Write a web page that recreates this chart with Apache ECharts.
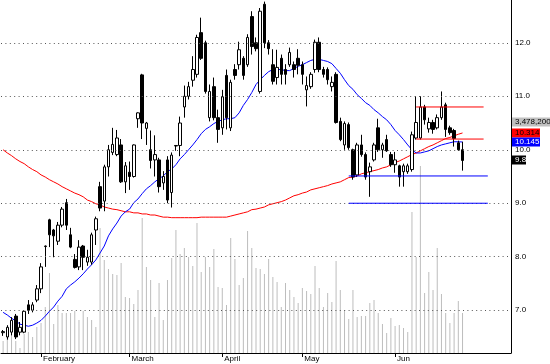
<!DOCTYPE html>
<html><head><meta charset="utf-8">
<script src="https://cdn.jsdelivr.net/npm/echarts@6/dist/echarts.min.js"></script>
<style>html,body{margin:0;padding:0;background:#fff}#c{width:550px;height:364px}</style>
</head><body><div id="c"></div>
<script>
const totalSlots = 121;
const monthLabels = ['February','March','April','May','Jun'];
const monthStarts = [9,30,52,71,93];
const yTicks = [7,8,9,10,11,12];

const opens = [6.58,6.50,6.59,6.89,6.59,6.59,7.10,7.00,7.19,7.40,
 8.19,8.69,8.50,8.29,8.59,9.01,8.41,7.95,7.81,8.20,
 7.90,7.90,8.50,9.31,9.04,9.68,9.95,9.91,10.09,9.40,
 9.58,9.50,10.58,11.40,10.40,10.00,9.81,9.81,9.38,9.81,
 9.20,10.07,10.08,10.80,11.00,11.30,11.41,12.19,12.00,10.60,
 11.18,10.60,10.41,11.39,10.41,11.50,11.59,11.71,11.59,12.49,
 12.00,11.09,12.72,12.00,11.59,11.35,11.71,11.50,11.59,11.59,
 11.71,11.59,11.12,11.18,11.50,12.01,11.50,11.50,11.18,11.41,
 10.53,10.09,10.47,10.00,9.53,10.09,9.91,9.59,9.81,10.41,
 10.00,10.19,9.91,9.72,9.70,9.59,9.59,9.63,10.22,10.22,
 10.80,10.39,10.51,10.41,10.60,10.84,10.41,10.36,10.13,10.00];
const closes = [6.60,6.68,6.81,6.50,6.68,6.98,7.00,7.10,7.40,7.81,
 8.20,8.41,8.39,8.59,8.89,8.59,8.18,7.80,8.18,7.99,
 7.99,8.41,8.71,8.91,9.68,10.00,10.10,10.22,9.40,9.70,
 9.50,10.09,10.69,10.50,10.50,9.80,9.91,9.31,9.50,9.06,
 9.90,10.08,10.50,11.00,11.18,11.50,12.10,11.71,11.09,11.09,
 10.60,10.38,10.99,10.60,11.26,11.39,11.87,11.39,12.10,11.93,
 11.89,12.59,12.00,11.89,11.28,11.54,11.41,11.41,11.82,11.50,
 11.58,11.41,11.20,11.41,12.01,11.50,11.41,11.31,11.26,10.51,
 10.19,10.49,10.04,9.49,10.09,9.91,9.49,9.68,10.09,10.00,
 10.09,9.98,9.72,9.81,9.49,9.70,9.70,10.28,10.51,10.80,
 10.56,10.51,10.38,10.60,10.80,10.38,10.32,10.21,10.00,9.80];
const lows = [6.52,6.45,6.53,6.46,6.53,6.57,6.93,6.96,7.15,7.32,
 7.81,8.18,7.99,8.22,8.55,8.50,8.16,7.78,7.75,7.75,
 7.83,7.85,8.22,8.85,8.85,9.50,9.90,9.88,9.38,9.19,
 9.25,9.48,10.41,10.20,10.09,9.65,9.50,9.20,9.25,9.00,
 8.92,9.98,9.88,10.60,10.94,11.18,11.35,11.68,11.05,10.53,
 10.55,10.13,10.28,10.38,10.35,11.31,11.50,11.31,11.55,11.78,
 11.84,11.05,11.90,11.78,11.22,11.22,11.22,11.22,11.55,11.35,
 11.41,11.22,10.81,11.14,11.44,11.45,11.35,11.22,11.09,10.49,
 10.16,10.00,10.00,9.44,9.49,9.87,9.44,9.12,9.78,9.96,
 9.85,9.96,9.68,9.57,9.31,9.31,9.55,9.59,10.19,10.19,
 10.47,10.32,10.30,10.38,10.56,10.24,10.28,10.06,9.98,9.61];
const highs = [6.63,6.72,6.87,6.93,6.78,7.00,7.19,7.15,7.47,7.88,
 8.21,8.71,8.52,8.65,8.93,9.08,8.54,8.05,8.31,8.22,
 8.13,8.45,8.75,9.40,9.72,10.09,10.41,10.37,10.20,9.77,
 9.78,10.10,10.70,11.42,10.52,10.36,10.27,9.85,9.60,9.88,
 9.95,10.08,10.62,11.20,11.27,11.75,12.15,12.47,12.04,11.22,
 11.35,10.75,11.12,11.50,11.31,11.60,12.02,11.75,12.16,12.59,
 12.10,12.65,12.77,12.05,11.88,11.87,11.78,11.60,11.91,11.65,
 11.88,11.65,11.37,11.45,12.06,12.10,11.55,11.54,11.37,11.45,
 10.60,10.53,10.51,10.02,10.13,10.28,9.95,9.76,10.13,10.58,
 10.13,10.28,9.96,9.96,9.72,9.74,9.74,10.34,11.00,11.00,
 10.84,10.60,10.56,10.66,11.09,10.88,10.45,10.39,10.17,10.15];
const volumesThousands = [1043,1478,2000,1043,435,1652,1826,1391,2261,2609,
 4000,6956,2522,4174,3478,3478,3478,3652,2870,3652,
 3130,2870,2261,10869,8087,7304,6869,6782,7826,4869,
 4783,4261,5478,11739,7478,6348,3130,6087,2870,6348,
 8261,10695,8609,9130,8348,7565,11304,7043,8348,7478,
 9043,5739,5652,4174,10000,8174,5913,6522,10609,9130,
 7391,7304,6869,8174,6609,6174,4000,6087,5478,4869,
 4348,5652,5391,5130,7565,5652,4000,5217,4435,8000,
 5478,3739,2956,5478,3130,3217,3217,4348,4609,3478,
 2522,1739,3043,2348,2435,2174,1826,12261,8348,16261,
 5217,7043,5478,9130,5130,3478,2609,3478,4522,3478.2];
const maBlue = [6.96,6.91,6.85,6.80,6.74,6.72,6.70,6.72,6.76,6.81,
 6.89,6.98,7.06,7.17,7.26,7.40,7.47,7.53,7.60,7.68,
 7.77,7.85,7.94,8.07,8.20,8.39,8.52,8.63,8.76,8.84,
 8.89,9.01,9.08,9.18,9.27,9.33,9.40,9.46,9.51,9.59,
 9.64,9.72,9.83,9.91,10.00,10.09,10.19,10.30,10.38,10.43,
 10.49,10.53,10.56,10.58,10.58,10.60,10.69,10.83,10.94,11.07,
 11.22,11.31,11.39,11.46,11.50,11.50,11.50,11.48,11.48,11.52,
 11.56,11.59,11.63,11.67,11.69,11.69,11.67,11.65,11.61,11.52,
 11.43,11.31,11.20,11.13,11.03,10.96,10.88,10.83,10.75,10.69,
 10.62,10.56,10.47,10.36,10.28,10.19,10.09,10.00,9.94,9.94,
 9.96,9.98,10.02,10.06,10.09,10.11,10.13,10.15,10.15,10.145];
const maRed = [10.00,9.94,9.89,9.83,9.78,9.74,9.68,9.63,9.59,9.53,
 9.49,9.44,9.40,9.36,9.31,9.27,9.23,9.19,9.16,9.12,
 9.06,9.03,8.99,8.97,8.93,8.91,8.89,8.88,8.86,8.84,
 8.84,8.82,8.82,8.80,8.80,8.78,8.78,8.76,8.74,8.74,
 8.73,8.73,8.73,8.73,8.73,8.73,8.73,8.74,8.74,8.74,
 8.74,8.74,8.74,8.74,8.76,8.78,8.80,8.82,8.84,8.88,
 8.89,8.91,8.93,8.97,8.99,9.01,9.03,9.06,9.10,9.14,
 9.16,9.19,9.21,9.25,9.27,9.29,9.31,9.33,9.36,9.38,
 9.40,9.44,9.48,9.49,9.51,9.55,9.57,9.59,9.61,9.63,
 9.66,9.68,9.72,9.76,9.79,9.83,9.87,9.91,9.94,9.98,
 10.02,10.06,10.09,10.13,10.17,10.21,10.23,10.26,10.29,10.314];
const redLevelValues = [10.80, 10.20];
const redLevelSpan = [98, 114];
const blueLevelValues = [9.51, 9.00];
const blueLevelSpan = [82, 115];

const FONT = 'Liberation Sans';
const chart = echarts.init(document.getElementById('c'), null, {renderer: 'canvas', width: 550, height: 364});
const cats = Array.from({length: totalSlots}, (_, i) => String(i));
const monthAt = {};
monthStarts.forEach((s, k) => { monthAt[s] = monthLabels[k]; });
const ohlc = opens.map((o, i) => [o, closes[i], lows[i], highs[i]]);

function levelSeries(values, span, color, z) {
  return values.map(v => ({
    type: 'line', yAxisIndex: 0, z: z, silent: true, showSymbol: false, symbol: 'none',
    data: [[span[0], v], [span[1], v]],
    lineStyle: {color: color, width: 1}
  }));
}

const option = {
  animation: false,
  backgroundColor: '#fff',
  grid: {left: 1, right: 39, top: 0, bottom: 11, containLabel: false},
  xAxis: {
    type: 'category', data: cats, boundaryGap: true,
    axisLine: {show: true, onZero: false, lineStyle: {color: '#000', width: 1}},
    axisTick: {show: true, alignWithLabel: true, length: 4, inside: false,
      interval: (i) => monthAt[i] !== undefined, lineStyle: {color: '#000'}},
    axisLabel: {show: true, interval: (i) => monthAt[i] !== undefined,
      formatter: (v, i) => monthAt[i] || '', align: 'left', margin: 2,
      padding: [0, 0, 0, 2], fontSize: 8, color: '#000', fontFamily: FONT},
    splitLine: {show: false}
  },
  yAxis: [
    {type: 'value', position: 'right', min: 6.2, max: 12.8,
      axisLine: {show: true, lineStyle: {color: '#000', width: 1}},
      axisTick: {show: false},
      axisLabel: {show: true, customValues: yTicks, formatter: (v) => v.toFixed(1),
        margin: 4, fontSize: 8, color: '#000', fontFamily: FONT},
      splitLine: {show: false}},
    {type: 'value', min: 0, max: 30695, show: false, splitLine: {show: false}}
  ],
  series: [
    {type: 'bar', yAxisIndex: 1, data: volumesThousands, barWidth: 1, z: 1, silent: true,
      itemStyle: {color: '#bdbdbd'}},
    {type: 'line', yAxisIndex: 0, data: [], z: 2, silent: true,
      markLine: {silent: true, symbol: 'none', animation: false, label: {show: false},
        lineStyle: {color: '#555', type: [1, 3.4], width: 1},
        data: yTicks.map(v => ({yAxis: v}))}},
    {type: 'line', yAxisIndex: 0, data: maRed, z: 3, showSymbol: false, symbol: 'none', silent: true,
      lineStyle: {color: '#ff0000', width: 1}},
    {type: 'line', yAxisIndex: 0, data: maBlue, z: 3, showSymbol: false, symbol: 'none', silent: true,
      lineStyle: {color: '#0000ff', width: 1}},
    {type: 'candlestick', yAxisIndex: 0, data: ohlc, barWidth: 3, z: 4, silent: true,
      itemStyle: {color: '#ffffff', color0: '#000000', borderColor: '#000000', borderColor0: '#000000', borderWidth: 1}},
    ...levelSeries(redLevelValues, redLevelSpan, '#ff0000', 5),
    ...levelSeries(blueLevelValues, blueLevelSpan, '#0000ff', 5)
  ]
};
chart.setOption(option);

const last = closes.length - 1;
function tag(value, text, bg, fg, w, dy) {
  const y = chart.convertToPixel({yAxisIndex: 0}, value) + (dy || 0);
  return {type: 'group', z: 100, children: [
    {type: 'rect', shape: {x: 512, y: Math.round(y) - 4.5, width: w, height: 9}, style: {fill: bg}},
    {type: 'text', x: 515, y: Math.round(y), style: {text: text, fill: fg, font: '8px ' + FONT, verticalAlign: 'middle', align: 'left'}}
  ]};
}
const volText = Math.round(volumesThousands[last] * 1000).toLocaleString('en-US');
chart.setOption({graphic: [
  tag(maRed[last], volText, '#c0c0c0', '#000', 40, -11),
  tag(maRed[last], maRed[last].toFixed(3), '#ff0000', '#000', 28),
  tag(maBlue[last], maBlue[last].toFixed(3), '#0000ff', '#fff', 28),
  tag(closes[last], closes[last].toFixed(1), '#000000', '#fff', 14)
]});
</script></body></html>
